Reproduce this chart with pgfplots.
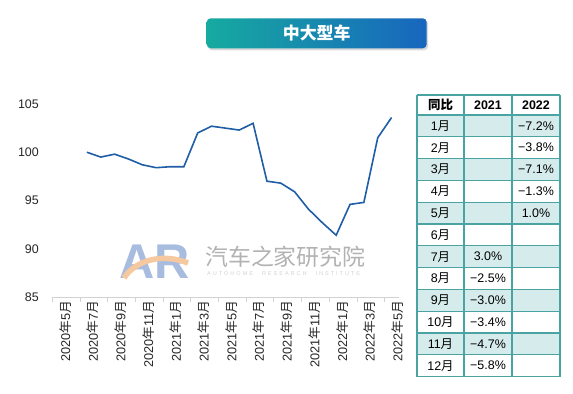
\documentclass[border=0pt]{standalone}
\usepackage{fontspec}
\setmainfont{Liberation Sans}
\newfontfamily\cjk{Noto Sans CJK SC}
\newfontfamily\wmfont[LetterSpace=35]{Liberation Sans}
\usepackage{graphicx}
\usepackage{pgfplots}
\pgfplotsset{compat=1.18}
\definecolor{linec}{RGB}{31,94,166}
\definecolor{tborder}{RGB}{74,163,163}
\definecolor{tfill}{RGB}{214,236,236}
\definecolor{bannerL}{RGB}{22,170,160}
\definecolor{bannerR}{RGB}{24,102,190}
\definecolor{wmblue}{RGB}{168,188,224}
\definecolor{wmorange}{RGB}{246,200,160}
\definecolor{wmgray}{RGB}{178,178,178}
\definecolor{axgray}{RGB}{210,210,210}
\newcommand\ym[2]{#1{\cjk 年}#2{\cjk 月}}
\begin{document}
\begin{tikzpicture}
\useasboundingbox (0,0) rectangle (573bp,394bp);
% banner
\fill[black!15, rounded corners=4bp] (208bp,343.7bp) rectangle (428.2bp,374bp);
\shade[left color=bannerL, right color=bannerR, rounded corners=4bp] (206.7bp,345.7bp) rectangle (426.7bp,375.7bp);
\node[text=white, font=\fontsize{17}{17}\selectfont\cjk\bfseries] at (316.7bp,360.7bp) {中大型车};
% watermark
\begin{scope}[x=1bp,y=1bp]
\node[anchor=base west, inner sep=0, text=wmblue, font=\fontsize{49}{49}\selectfont\bfseries] at (119,116) {AR};
\draw[wmorange, line width=5.5bp] (124,116) .. controls (134,132) and (160,142) .. (188,131);
\node[anchor=west, inner sep=0, text=wmgray, font=\fontsize{23}{23}\selectfont\cjk] at (205,137.5) {汽车之家研究院};
\node[anchor=west, inner sep=0, text=black!18, font=\fontsize{5.6}{5.6}\selectfont\wmfont] at (207,120) {AUTOHOME\hspace{9bp}RESEARCH\hspace{9bp}INSTITUTE};
\end{scope}
% chart
\begin{axis}[
  at={(52.3bp,97bp)}, anchor=south west, scale only axis,
  width=346.2bp, height=193bp,
  xmin=-0.5, xmax=24.5, ymin=85, ymax=105,
  axis x line*=bottom, axis y line*=left,
  y axis line style={draw=none},
  x axis line style={-, draw=axgray, line width=0.8bp},
  xtick={0,2,...,24},
  xticklabels={\ym{2020}{5},\ym{2020}{7},\ym{2020}{9},\ym{2020}{11},\ym{2021}{1},\ym{2021}{3},\ym{2021}{5},\ym{2021}{7},\ym{2021}{9},\ym{2021}{11},\ym{2022}{1},\ym{2022}{3},\ym{2022}{5}},
  minor xtick={-0.5,1.5,...,23.5},
  major tick length=0pt, minor tick length=5bp, tick align=outside,
  minor x tick style={draw=axgray, line width=0.8bp},
  ytick={85,90,...,105},
  /pgf/number format/assume math mode=true,
  yticklabel style={font=\fontsize{12.5}{12.5}\selectfont, text=black!85, anchor=east, xshift=-10bp},
  xticklabel style={rotate=90, anchor=east, font=\fontsize{12.8}{12.8}\selectfont, text=black!85, yshift=-6bp},
  clip=false,
]
\addplot[linec, line width=1.6bp, no marks] coordinates {
(2,100.0)(3,99.5)(4,99.8)(5,99.3)(6,98.7)(7,98.4)(8,98.5)(9,98.5)
(10,102.0)(11,102.7)(12,102.5)(13,102.3)(14,103.0)(15,97.0)(16,96.8)
(17,95.9)(18,94.1)(19,92.7)(20,91.4)(21,94.6)(22,94.8)(23,101.5)(24,103.6)};
\end{axis}
% table
\begin{scope}[x=1bp,y=1bp, font=\fontsize{12.5}{12.5}\selectfont]
\foreach \i in {1,3,5,7,9,11} {
  \pgfmathsetmacro\yt{279-(\i-1)*21.8}
  \fill[tfill] (417,\yt) rectangle (560,\yt-21.8);
}
\node[font=\fontsize{12.5}{12.5}\selectfont\cjk\bfseries] at (440.5,289) {同比};
\node[font=\fontsize{12.5}{12.5}\selectfont\bfseries] at (488,289) {2021};
\node[font=\fontsize{12.5}{12.5}\selectfont\bfseries] at (536,289) {2022};
\foreach \i/\a/\b in {1/{}/{−7.2\%},2/{}/{−3.8\%},3/{}/{−7.1\%},4/{}/{−1.3\%},5/{}/{1.0\%},6/{}/{},
  7/{3.0\%}/{},8/{−2.5\%}/{},9/{−3.0\%}/{},10/{−3.4\%}/{},11/{−4.7\%}/{},12/{−5.8\%}/{}} {
  \pgfmathsetmacro\yc{279-(\i-0.5)*21.8}
  \node at (440.5,\yc) {\i{\cjk 月}};
  \node at (488,\yc) {\a};
  \node at (536,\yc) {\b};
}
\draw[tborder, line width=1.2bp] (417,299) -- (560,299);
\foreach \i in {0,...,12} {
  \pgfmathsetmacro\yl{279-\i*21.8}
  \draw[tborder, line width=1.2bp] (417,\yl) -- (560,\yl);
}
\foreach \xx in {417,464,512,560} {
  \draw[tborder, line width=1.2bp] (\xx,299) -- (\xx,17.4);
}
\end{scope}
\end{tikzpicture}
\end{document}
